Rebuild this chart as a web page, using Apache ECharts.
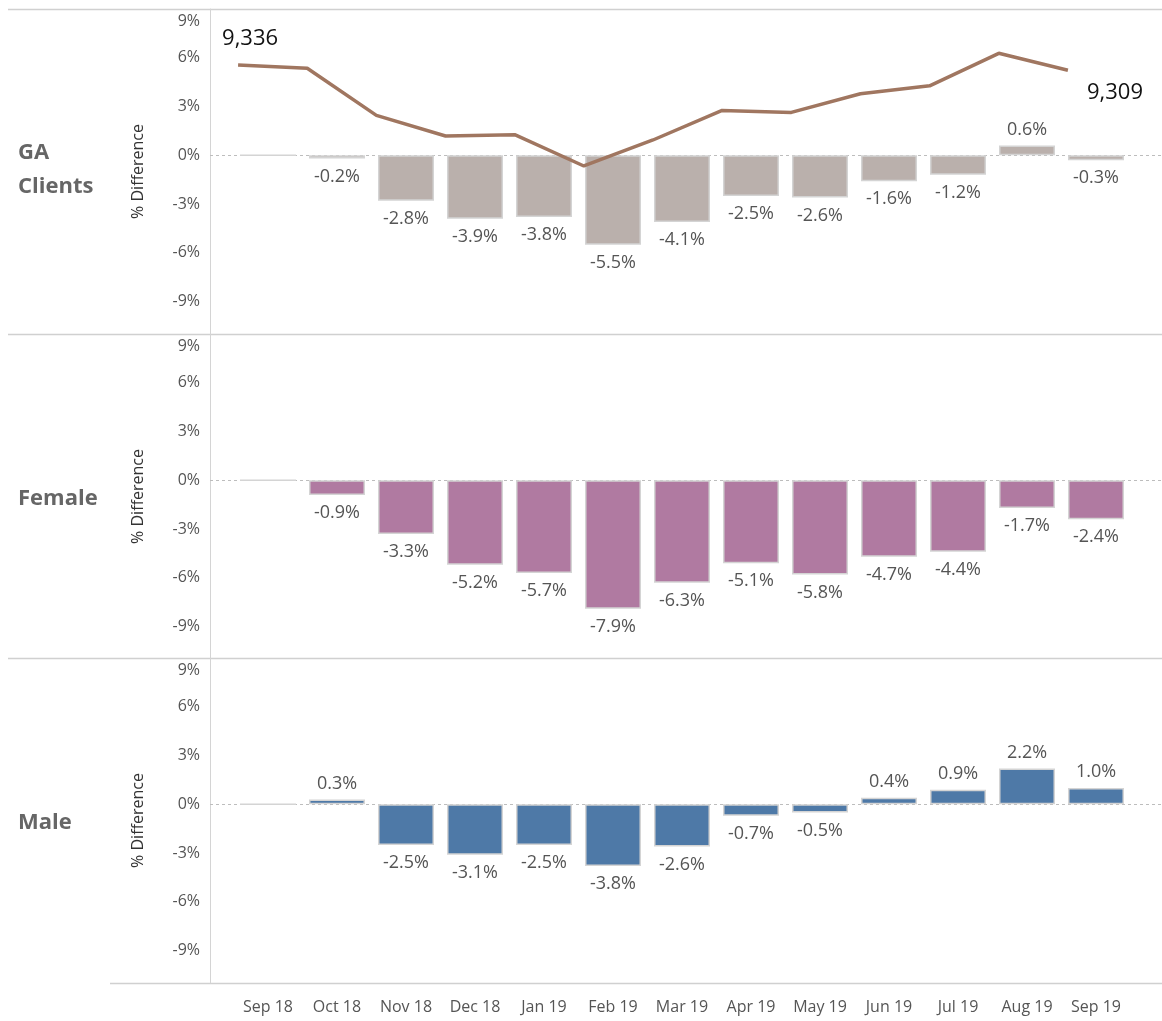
<!DOCTYPE html>
<html>
<head>
<meta charset="utf-8">
<script src="https://cdn.jsdelivr.net/npm/echarts@6/dist/echarts.min.js"></script>
<style>
  html, body { margin: 0; padding: 0; background: #ffffff; }
  #chart { width: 1162px; height: 1021px; }
</style>
</head>
<body>
<div id="chart"></div>
<script>
// ---------- data ----------
const categories = ['Sep 18', 'Oct 18', 'Nov 18', 'Dec 18', 'Jan 19', 'Feb 19', 'Mar 19',
                    'Apr 19', 'May 19', 'Jun 19', 'Jul 19', 'Aug 19', 'Sep 19'];
const gaPct     = [0, -0.2, -2.8, -3.9, -3.8, -5.5, -4.1, -2.5, -2.6, -1.6, -1.2, 0.6, -0.3];
const femalePct = [0, -0.9, -3.3, -5.2, -5.7, -7.9, -6.3, -5.1, -5.8, -4.7, -4.4, -1.7, -2.4];
const malePct   = [0, 0.3, -2.5, -3.1, -2.5, -3.8, -2.6, -0.7, -0.5, 0.4, 0.9, 2.2, 1.0];
const gaClients = [9336, 9319, 9080, 8975, 8982, 8823, 8955, 9105, 9095, 9190, 9230, 9395, 9309];
const rowNames  = ['GA\nClients', 'Female', 'Male'];
const yTicks    = [-9, -6, -3, 0, 3, 6, 9];

// ---------- layout / style ----------
const panelTops = [9, 334, 658];
const panelH = 325;
const gridLeft = 233.5, gridRight = 31.5;
const lineShift = 28;
const barColors = ['#BAB0AC', '#B07AA1', '#4E79A7'];
const FONT = '"Open Sans", "Noto Sans", sans-serif';
const pctSeries = [gaPct, femalePct, malePct];

const chart = echarts.init(document.getElementById('chart'), null, { renderer: 'canvas' });

const grids = [], xAxes = [], yAxes = [], series = [];
for (let i = 0; i < 3; i++) {
  grids.push({ left: gridLeft, right: gridRight, top: panelTops[i], height: panelH });
  xAxes.push({
    type: 'category', gridIndex: i, data: categories, boundaryGap: true,
    axisLine: { show: false }, axisTick: { show: false },
    axisLabel: { show: i === 2, color: '#555', fontSize: 16, fontFamily: FONT, margin: 16, interval: 0 }
  });
  yAxes.push({
    type: 'value', gridIndex: i, min: -11, max: 9, interval: 1, offset: gridLeft - 210,
    axisLine: { show: true, lineStyle: { color: '#d4d4d4', width: 1 } },
    axisTick: { show: false }, splitLine: { show: false },
    axisLabel: {
      color: '#555', fontSize: 16, fontFamily: FONT, margin: 10,
      verticalAlignMaxLabel: 'top',
      formatter: v => (yTicks.indexOf(v) >= 0 ? (v === 9 ? '{top|' + v + '%}' : v + '%') : ''),
      rich: { top: { color: '#555', fontSize: 16, fontFamily: FONT, padding: [4, 0, 0, 0] } }
    },
    name: '% Difference', nameLocation: 'middle', nameGap: 64, nameRotate: 90,
    nameTextStyle: { color: '#333', fontSize: 16, fontFamily: FONT }
  });
  series.push({
    type: 'bar', xAxisIndex: i, yAxisIndex: i, barWidth: 56,
    data: pctSeries[i].map(v => ({ value: v, label: { distance: v < 0 ? 9 : 7 } })),
    itemStyle: { color: barColors[i], borderColor: '#d4d4d4', borderWidth: 1.5 },
    label: {
      show: true, position: 'outside', color: '#555', fontSize: 18, fontFamily: FONT,
      formatter: p => (p.value === 0 ? '' : p.value.toFixed(1) + '%')
    },
    z: 2
  });
}

// line grid overlaying the first panel (vertices sit at bar left edges)
grids.push({ left: gridLeft - lineShift - 2, right: gridRight + lineShift, top: panelTops[0], height: panelH });
xAxes.push({ type: 'category', gridIndex: 3, data: categories, boundaryGap: true, show: false });
yAxes.push({ type: 'value', gridIndex: 3, min: 7970, max: 9620, show: false });

const last = gaClients.length - 1;
series.push({
  type: 'line', xAxisIndex: 3, yAxisIndex: 3, z: 5,
  symbol: 'circle', symbolSize: 0.1, showSymbol: true,
  lineStyle: { color: '#A07660', width: 3.5 },
  itemStyle: { color: '#A07660' },
  data: gaClients.map((v, k) => {
    if (k === 0) return { value: v, label: { show: true, position: 'top', distance: 15, offset: [12, 0] } };
    if (k === last) return { value: v, label: { show: true, position: 'right', distance: 19, offset: [0, 22] } };
    return { value: v, label: { show: false } };
  }),
  label: {
    color: '#111', fontSize: 22, fontFamily: FONT,
    formatter: p => p.value.toLocaleString('en-US')
  }
});

chart.setOption({
  animation: false,
  backgroundColor: '#ffffff',
  grid: grids, xAxis: xAxes, yAxis: yAxes, series: series
});

// decorations: panel separators, zero lines, row titles
const graphics = [];
const sepColor = '#d0d0d0';
[panelTops[0], panelTops[1], panelTops[2]].forEach(t => {
  graphics.push({ type: 'line', shape: { x1: 8, y1: t + 0.5, x2: 1162, y2: t + 0.5 },
    style: { stroke: sepColor, lineWidth: 1.5 }, silent: true });
});
graphics.push({ type: 'line', shape: { x1: 110, y1: panelTops[2] + panelH + 0.5, x2: 1162, y2: panelTops[2] + panelH + 0.5 },
  style: { stroke: sepColor, lineWidth: 1.5 }, silent: true });

for (let i = 0; i < 3; i++) {
  const y0 = Math.round(chart.convertToPixel({ yAxisIndex: i }, 0)) + 0.5;
  graphics.push({ type: 'line', z: 1, shape: { x1: 210, y1: y0, x2: 1162, y2: y0 },
    style: { stroke: '#bdbdbd', lineWidth: 1, lineDash: [3, 3] }, silent: true });
  graphics.push({
    type: 'text', left: 18, top: panelTops[i] + panelH / 2 - (i === 0 ? 36 : 15), z: 10,
    style: { text: rowNames[i], fill: '#666', font: 'bold 22px ' + FONT, lineHeight: 34 }
  });
}
chart.setOption({ graphic: graphics });
</script>
</body>
</html>
